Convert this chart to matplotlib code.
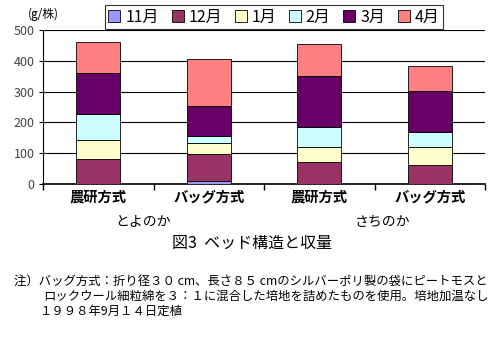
import matplotlib
matplotlib.use("Agg")
import matplotlib.pyplot as plt
import numpy as np

plt.rcParams['font.family'] = ['Noto Sans CJK JP', 'DejaVu Sans']

methods = ["農研方式", "バッグ方式", "農研方式", "バッグ方式"]
cultivars = ["とよのか", "さちのか"]
months = ["11月", "12月", "1月", "2月", "3月", "4月"]
v_nov = [0, 9, 0, 0]
v_dec = [81, 89, 71, 62]
v_jan = [62, 35, 49, 58]
v_feb = [84, 23, 66, 49]
v_mar = [133, 98, 165, 133]
v_apr = [101, 152, 104, 81]
colors = ["#9999FF", "#993366", "#FFFFCC", "#CCFFFF", "#660066", "#FF8080"]

series = [v_nov, v_dec, v_jan, v_feb, v_mar, v_apr]

fig = plt.figure(figsize=(5.0, 3.38), dpi=100)
ax = fig.add_axes([0.086, 0.4556, 0.884, 0.4556])

x = np.arange(len(methods))
bottom = np.zeros(len(methods))
handles = []
for vals, c, m in zip(series, colors, months):
    h = ax.bar(x, vals, width=0.4, bottom=bottom, color=c, edgecolor="#000000",
               linewidth=0.6, label=m, zorder=3)
    handles.append(h)
    bottom += np.array(vals)

ax.set_xlim(-0.5, 3.5)
ax.set_ylim(0, 500)
ax.set_yticks([0, 100, 200, 300, 400, 500])
ax.yaxis.grid(True, color="#000000", linewidth=0.8, zorder=0)
ax.set_axisbelow(True)
for s in ["top", "right"]:
    ax.spines[s].set_visible(False)
ax.spines["left"].set_linewidth(0.8)
ax.spines["bottom"].set_linewidth(1.2)
ax.tick_params(axis="y", length=3, labelsize=9, labelcolor="#444444", pad=3)
ax.set_xticks([-0.5, 0.5, 1.5, 2.5, 3.5])
ax.set_xticklabels([])
ax.tick_params(axis="x", length=4, width=1, direction="out")

for xi, m in zip(x, methods):
    ax.text(xi, -0.09, m, transform=ax.get_xaxis_transform(), ha="center",
            va="center", fontsize=10.3, fontweight="bold")
fig.text(143 / 500, 1 - 222 / 338, cultivars[0], ha="center", va="center", fontsize=10)
fig.text(383 / 500, 1 - 222 / 338, cultivars[1], ha="center", va="center", fontsize=10)

fig.text(28 / 500, 1 - 14 / 338, "(g/株)", ha="left", va="center", fontsize=8.5)

leg = fig.legend(handles=handles, labels=months, ncol=6, loc="center",
                 bbox_to_anchor=(274 / 500, 1 - 17 / 338), frameon=True,
                 fancybox=False, edgecolor="#000000", fontsize=11.5,
                 handlelength=0.75, handleheight=0.75, handletextpad=0.3,
                 columnspacing=0.8, borderpad=0.2, borderaxespad=0)
leg.get_frame().set_linewidth(0.8)

fig.text(252 / 500, 1 - 243 / 338, "図3  ベッド構造と収量", ha="center", va="center", fontsize=11.5)

fs = 8.9
fig.text(14 / 500, 1 - 281 / 338,
         "注）バッグ方式：折り径３０ cm、長さ８５ cmのシルバーポリ製の袋にピートモスと",
         ha="left", va="center", fontsize=fs)
fig.text(43 / 500, 1 - 296 / 338,
         "ロックウール細粒綿を３：１に混合した培地を詰めたものを使用。培地加温なし",
         ha="left", va="center", fontsize=fs)
fig.text(40 / 500, 1 - 311 / 338,
         "１９９８年9月１４日定植",
         ha="left", va="center", fontsize=fs)

fig.savefig("out.png", dpi=100)
